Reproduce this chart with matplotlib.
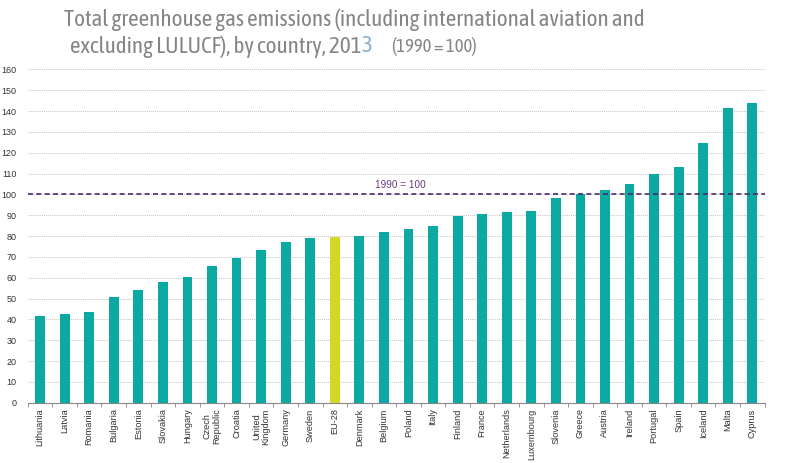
import matplotlib
matplotlib.use("Agg")
import matplotlib.pyplot as plt
import numpy as np

countries = ["Lithuania", "Latvia", "Romania", "Bulgaria", "Estonia", "Slovakia",
             "Hungary", "Czech\nRepublic", "Croatia", "United\nKingdom", "Germany",
             "Sweden", "EU-28", "Denmark", "Belgium", "Poland", "Italy", "Finland",
             "France", "Netherlands", "Luxembourg", "Slovenia", "Greece", "Austria",
             "Ireland", "Portugal", "Spain", "Iceland", "Malta", "Cyprus"]
values = [41.6, 42.4, 43.5, 50.7, 54.2, 57.8, 60.6, 65.8, 69.6, 73.4, 77.3,
          79.0, 79.8, 80.3, 81.9, 83.2, 85.0, 89.9, 90.7, 91.8, 92.2, 98.1,
          100.2, 102.2, 105.0, 109.6, 113.0, 124.5, 141.3, 143.7]
highlight = "EU-28"
yticks = list(range(0, 161, 10))

teal = "#0CA9A2"
yellow = "#D6D624"
title_font = ["Asap Condensed", "Liberation Sans Narrow", "DejaVu Sans"]
label_font = ["Liberation Sans", "DejaVu Sans"]

fig = plt.figure(figsize=(7.94, 4.63), dpi=100)
ax = fig.add_axes([0.035, 0.130, 0.928, 0.720])

x = np.arange(len(countries))
colors = [yellow if c == highlight else teal for c in countries]
ax.bar(x, values, width=0.4, color=colors, zorder=3)

ax.axhline(100, color="#4B2A6B", linestyle=(0, (3, 2)), linewidth=1.2, zorder=4)
ax.text(14.68, 102, "1990 = 100", color="#6B3A7D", fontsize=7.2,
        ha="center", va="bottom", family=label_font)

ax.set_xlim(-0.5, len(countries) - 0.5)
ax.set_ylim(0, 160)
ax.set_yticks(yticks)
ax.set_yticklabels([str(t) for t in yticks], fontsize=6.5, color="#333333",
                   family=label_font)
ax.yaxis.grid(True, color="#C4C4C4", linestyle=(0, (1, 1)), linewidth=0.7, zorder=0)
ax.tick_params(axis="y", length=0, pad=8)

ax.set_xticks(x)
ax.set_xticklabels(countries, rotation=90, fontsize=6.6, color="#333333",
                   linespacing=1.0, family=label_font)
ax.set_xticks(np.arange(-0.5, len(countries), 1), minor=True)
ax.tick_params(axis="x", which="major", length=0, pad=4)
ax.tick_params(axis="x", which="minor", length=3, color="#888888")

for s in ["top", "right", "left"]:
    ax.spines[s].set_visible(False)
ax.spines["bottom"].set_color("#888888")
ax.spines["bottom"].set_linewidth(0.8)

# title, sized so the first line spans about the same width as the original
line1 = "Total greenhouse gas emissions (including international aviation and"
t1 = fig.text(64 / 794, 0.957, line1, fontsize=15, color="#858585",
              family=title_font, va="center")
fig.canvas.draw()
w = t1.get_window_extent().width
size = 15 * 586 / w
t1.set_fontsize(size)

t2 = fig.text(70 / 794, 0.900, "excluding LULUCF), by country, 201", fontsize=size,
              color="#858585", family=title_font, va="center")
fig.canvas.draw()
x3 = t2.get_window_extent().x1 / fig.bbox.width
t3 = fig.text(x3, 0.900, "3", fontsize=size, color="#8AAFCF",
              family=title_font, va="center")
fig.canvas.draw()
x4 = (t3.get_window_extent().x1 + 19) / fig.bbox.width
fig.text(x4, 0.900, "(1990 = 100)", fontsize=size * 0.8, color="#858585",
         family=title_font, va="center")

fig.savefig("out.png", dpi=100)
